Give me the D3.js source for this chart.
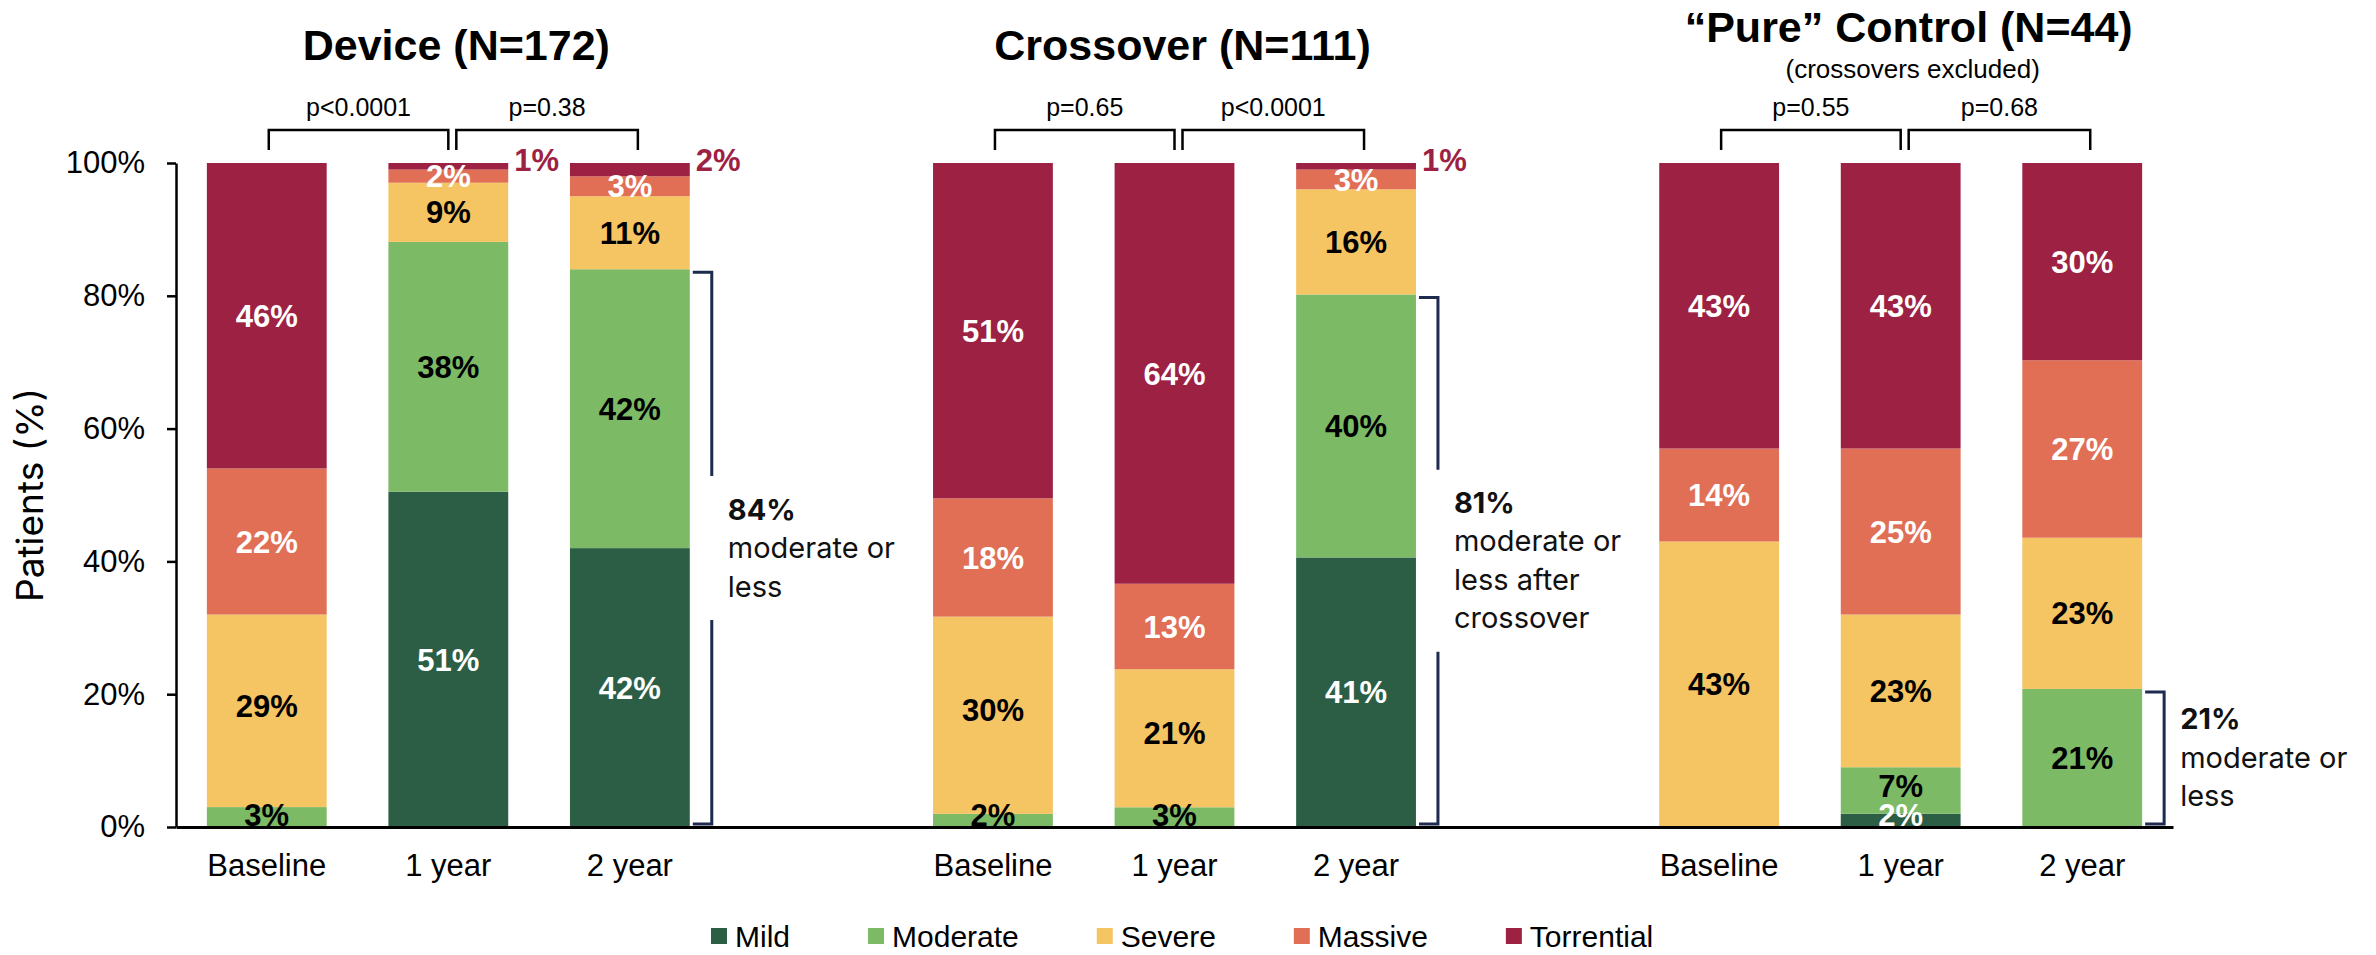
<!DOCTYPE html>
<html>
<head>
<meta charset="utf-8">
<script src="https://cdn.jsdelivr.net/npm/d3@7"></script>
<style>
  body { margin: 0; background: #ffffff; }
  svg { display: block; }
  text { font-family: "Liberation Sans", Arial, Helvetica, sans-serif; }
  .note { font-family: Inter, "Open Sans", "Liberation Sans", sans-serif; }
</style>
</head>
<body>
<svg id="chart" width="2376" height="955"></svg>
<script>
// ---- data ----
const groups = ["Device (N=172)", "Crossover (N=111)", "\u201CPure\u201D Control (N=44)"];
const subtitles = ["", "", "(crossovers excluded)"];
const timepoints = ["Baseline", "1 year", "2 year"];
const severities = ["Mild", "Moderate", "Severe", "Massive", "Torrential"];

// one entry per bar: Device B/1y/2y, Crossover B/1y/2y, Pure Control B/1y/2y
const mild       = [0, 51, 42,   0,  0, 41,   0,  2,  0];
const moderate   = [3, 38, 42,   2,  3, 40,   0,  7, 21];
const severe     = [29, 9, 11,  30, 21, 16,  43, 23, 23];
const massive    = [22, 2,  3,  18, 13,  3,  14, 25, 27];
const torrential = [46, 1,  2,  51, 64,  1,  43, 43, 30];

const pValues = [["p<0.0001", "p=0.38"], ["p=0.65", "p<0.0001"], ["p=0.55", "p=0.68"]];
const summaryPct = ["84%", "81%", "21%"];
const summaryText = [["moderate or", "less"], ["moderate or", "less after", "crossover"], ["moderate or", "less"]];
const yTicks = [0, 0.2, 0.4, 0.6, 0.8, 1];

// ---- styling ----
const colors = {
  Mild: "#2C5E46",
  Moderate: "#7CBA66",
  Severe: "#F5C463",
  Massive: "#E06F56",
  Torrential: "#9D2143"
};
const whiteText = new Set(["Mild", "Massive", "Torrential"]);
const navy = "#1E2A4E";

const seriesValues = { Mild: mild, Moderate: moderate, Severe: severe, Massive: massive, Torrential: torrential };

const bars = [];
groups.forEach((g, gi) => {
  timepoints.forEach((t, ti) => {
    const i = gi * 3 + ti;
    const row = { key: gi + "|" + ti, group: gi, time: t };
    severities.forEach(s => { row[s] = seriesValues[s][i]; });
    bars.push(row);
  });
});

// band slots with an empty slot between the three panels
const slots = ["0|0", "0|1", "0|2", "gapA", "1|0", "1|1", "1|2", "gapB", "2|0", "2|1", "2|2"];

const svg = d3.select("#chart");
const x = d3.scaleBand().domain(slots).range([176, 2173]).paddingInner(0.34).paddingOuter(0.17);
const y = d3.scaleLinear().domain([0, 1]).range([827, 163]);
const bw = x.bandwidth();

const stacked = d3.stack().keys(severities).offset(d3.stackOffsetExpand)(bars);

// ---- bars ----
const layers = svg.append("g").selectAll("g")
  .data(stacked).join("g")
  .attr("fill", d => colors[d.key]);

layers.selectAll("rect")
  .data(d => d.filter(p => p[1] - p[0] > 0))
  .join("rect")
  .attr("x", d => x(d.data.key))
  .attr("y", d => y(d[1]))
  .attr("width", bw)
  .attr("height", d => y(d[0]) - y(d[1]));

// ---- segment labels ----
const labelG = svg.append("g");
stacked.forEach(layer => {
  layer.forEach(p => {
    const v = p.data[layer.key];
    if (!v) return;
    const outside = layer.key === "Torrential" && v <= 2;
    let lx, ly, fill, anchor;
    if (outside) {
      lx = x(p.data.key) + bw + 6;
      ly = y(1) - 3;
      fill = colors.Torrential;
      anchor = "start";
    } else {
      lx = x(p.data.key) + bw / 2;
      ly = (y(p[0]) + y(p[1])) / 2;
      // thin bottom segments: keep the label just above the axis
      if (p[0] === 0 && p[1] < 0.05) ly = Math.min(ly, y(0) - 12);
      // segment resting on a thin labelled one: nudge upward
      if (p[0] > 0 && p[0] < 0.05) ly -= 5;
      fill = whiteText.has(layer.key) ? "#ffffff" : "#000000";
      anchor = "middle";
    }
    labelG.append("text")
      .attr("x", lx).attr("y", ly)
      .attr("dy", "0.36em")
      .attr("text-anchor", anchor)
      .attr("font-size", 31)
      .attr("font-weight", "bold")
      .attr("fill", fill)
      .text(v + "%");
  });
});

// ---- axes ----
const yAxis = svg.append("g")
  .attr("transform", "translate(176,0)")
  .call(d3.axisLeft(y).tickValues(yTicks).tickFormat(d3.format(".0%")).tickSize(9).tickSizeOuter(0).tickPadding(22));
yAxis.select(".domain").attr("stroke", "#000").attr("stroke-width", 2.5);
yAxis.selectAll(".tick line").attr("stroke", "#000").attr("stroke-width", 2.5);
yAxis.selectAll(".tick text").attr("font-size", 31).attr("fill", "#000")
  .style("font-family", "'Liberation Sans', Arial, sans-serif");

const xAxis = svg.append("g")
  .attr("transform", "translate(0,827)")
  .call(d3.axisBottom(x)
    .tickValues(slots.filter(s => !s.startsWith("gap")))
    .tickFormat(s => timepoints[+s.split("|")[1]])
    .tickSize(0).tickSizeOuter(0).tickPadding(27));
xAxis.select(".domain").attr("stroke", "#000").attr("stroke-width", 3);
xAxis.selectAll(".tick text").attr("font-size", 31).attr("fill", "#000")
  .style("font-family", "'Liberation Sans', Arial, sans-serif");

svg.append("text")
  .attr("class", "note")
  .attr("transform", "translate(30," + (y(0.5)) + ") rotate(-90)")
  .attr("text-anchor", "middle")
  .attr("dy", "0.35em")
  .attr("font-size", 37)
  .attr("fill", "#000")
  .text("Patients (%)");

// ---- panel titles, p-value brackets, summary brackets ----
groups.forEach((g, gi) => {
  const c = ti => x(gi + "|" + ti) + bw / 2;
  const hasSub = subtitles[gi] !== "";

  svg.append("text")
    .attr("x", c(1) + 8).attr("y", hasSub ? 42 : 60)
    .attr("text-anchor", "middle")
    .attr("font-size", 43).attr("font-weight", "bold").attr("fill", "#000")
    .text(g);
  if (hasSub) {
    svg.append("text")
      .attr("x", c(1) + 12).attr("y", 78)
      .attr("text-anchor", "middle")
      .attr("font-size", 26).attr("fill", "#000")
      .text(subtitles[gi]);
  }

  const spans = [[c(0) + 2, c(1)], [c(1) + 8, c(2) + 8]];
  spans.forEach((s, si) => {
    svg.append("path")
      .attr("d", `M${s[0]},150V130H${s[1]}V150`)
      .attr("fill", "none").attr("stroke", "#000").attr("stroke-width", 2.5);
    svg.append("text")
      .attr("x", (s[0] + s[1]) / 2).attr("y", 116)
      .attr("text-anchor", "middle")
      .attr("font-size", 25).attr("fill", "#000")
      .text(pValues[gi][si]);
  });

  // bracket beside the 2-year bar covering moderate-or-less
  const last = bars[gi * 3 + 2];
  const share = (last.Mild + last.Moderate) / severities.reduce((a, s) => a + last[s], 0);
  const bx = x(last.key) + bw + 22;
  const top = y(share) + 3;
  const bottom = y(0) - 3;
  const lines = [summaryPct[gi]].concat(summaryText[gi]);
  const lineH = 38.5;
  const yc = (top + bottom) / 2;
  const half = (lines.length * 38 + 30) / 2;
  const bracket = svg.append("g").attr("fill", "none").attr("stroke", navy).attr("stroke-width", 3);
  if (bottom - top > 400) {
    bracket.append("path").attr("d", `M${bx - 19},${top}H${bx}V${yc - half}`);
    bracket.append("path").attr("d", `M${bx},${yc + half}V${bottom}H${bx - 19}`);
  } else {
    bracket.append("path").attr("d", `M${bx - 19},${top}H${bx}V${bottom}H${bx - 19}`);
  }
  const first = yc - (lines.length - 1) * lineH / 2 + 10;
  lines.forEach((ln, li) => {
    svg.append("text")
      .attr("class", "note")
      .attr("x", bx + 16).attr("y", first + li * lineH)
      .attr("font-size", 29)
      .attr("font-weight", li === 0 ? "bold" : "normal")
      .attr("fill", "#111")
      .text(ln);
  });
});

// ---- legend ----
const legend = svg.append("g");
let lx = 711;
severities.forEach(s => {
  legend.append("rect")
    .attr("x", lx).attr("y", 928).attr("width", 16).attr("height", 16)
    .attr("fill", colors[s]);
  const t = legend.append("text")
    .attr("x", lx + 24).attr("y", 936).attr("dy", "0.35em")
    .attr("font-size", 30).attr("fill", "#000")
    .text(s);
  lx += 24 + t.node().getComputedTextLength() + 78;
});
</script>
</body>
</html>
